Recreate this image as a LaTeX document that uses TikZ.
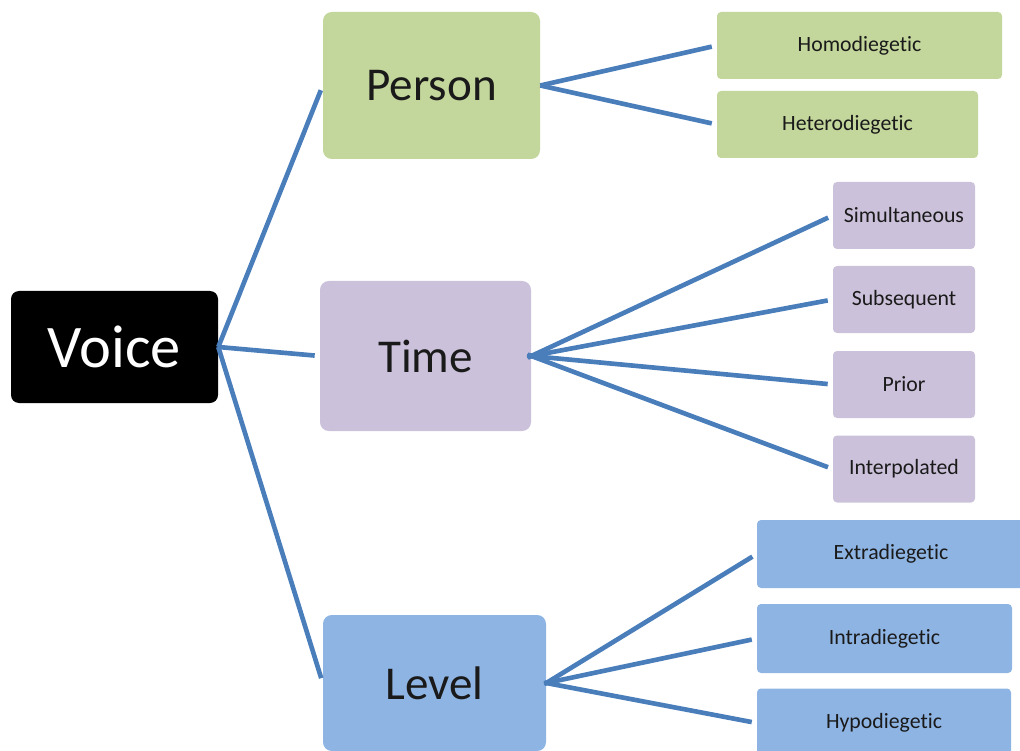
\documentclass[tikz,border=0pt]{standalone}
\usepackage{fontspec}
\setmainfont[Ligatures={NoCommon,NoContextual,NoRequired},RawFeature={-liga;-clig;-dlig}]{Carlito}
\usepackage{xcolor}
\usepackage{tikz}
\usetikzlibrary{positioning}
\definecolor{VoiceGreen}{HTML}{C3D69B}
\definecolor{VoicePurple}{HTML}{CCC1DA}
\definecolor{VoiceBlue}{HTML}{8EB4E3}
\definecolor{VoiceLine}{HTML}{4A7EBB}
\definecolor{VoiceText}{HTML}{1A1A1A}
\tikzset{
  rootbox/.style={rounded corners=0.2cm, fill=black, text=white, align=center, inner sep=0pt, minimum width=5.175cm, minimum height=2.8cm, font=\fontsize{43}{48}\selectfont},
  midbox/.style={rounded corners=0.22cm, align=center, inner sep=0pt, text=VoiceText, font=\fontsize{33.5}{38}\selectfont},
  leafbox/.style={rounded corners=0.1cm, align=center, inner sep=0pt, text=VoiceText, minimum height=1.675cm, font=\fontsize{15.5}{18}\selectfont},
  link/.style={draw=VoiceLine, line width=3.3pt}
}
\begin{document}
\begin{tikzpicture}
\useasboundingbox (0,0) rectangle (25.5,-18.775);
\clip (0,0) rectangle (25.5,-18.775);
% root
\node[rootbox] (voice) at (2.8625,-8.675) {Voice};
% second level
\node[midbox, fill=VoiceGreen, minimum width=5.425cm, minimum height=3.675cm] (person) at (10.7875,-2.1375) {Person};
\node[midbox, fill=VoicePurple, minimum width=5.275cm, minimum height=3.75cm] (time) at (10.6375,-8.9) {Time};
\node[midbox, fill=VoiceBlue, minimum width=5.575cm, minimum height=3.4cm] (level) at (10.8625,-17.075) {Level};
% leaves
\node[leafbox, fill=VoiceGreen, minimum width=7.125cm] (homo) at (21.4875,-1.1375) {Homodiegetic};
\node[leafbox, fill=VoiceGreen, minimum width=6.525cm] (hetero) at (21.1875,-3.1125) {Heterodiegetic};
\node[leafbox, fill=VoicePurple, minimum width=3.55cm] (simul) at (22.6,-5.3875) {Simultaneous};
\node[leafbox, fill=VoicePurple, minimum width=3.55cm] (subseq) at (22.6,-7.4875) {Subsequent};
\node[leafbox, fill=VoicePurple, minimum width=3.55cm] (prior) at (22.6,-9.6125) {Prior};
\node[leafbox, fill=VoicePurple, minimum width=3.55cm] (interp) at (22.6,-11.725) {Interpolated};
\node[leafbox, fill=VoiceBlue, minimum width=6.7cm, minimum height=1.7cm] (extra) at (22.275,-13.85) {Extradiegetic};
\node[leafbox, fill=VoiceBlue, minimum width=6.375cm, minimum height=1.725cm] (intra) at (22.1125,-15.9625) {Intradiegetic};
\node[leafbox, fill=VoiceBlue, minimum width=6.35cm, minimum height=1.725cm] (hypo) at (22.1,-18.075) {Hypodiegetic};
% connectors
\draw[link, shorten >=3.6pt] (voice.east) -- (person.west);
\draw[link, shorten >=3.6pt] (voice.east) -- (time.west);
\draw[link, shorten >=3.6pt] (voice.east) -- (level.west);
\foreach \leaf in {homo,hetero}
  \draw[link, shorten >=3.6pt] (person.east) -- (\leaf.west);
\foreach \leaf in {simul,subseq,prior,interp}
  \draw[link, shorten <=-2.8pt, shorten >=3.6pt] (time.east) -- (\leaf.west);
\foreach \leaf in {extra,intra,hypo}
  \draw[link, shorten <=-1.4pt, shorten >=3.6pt] (level.east) -- (\leaf.west);
\end{tikzpicture}
\end{document}
